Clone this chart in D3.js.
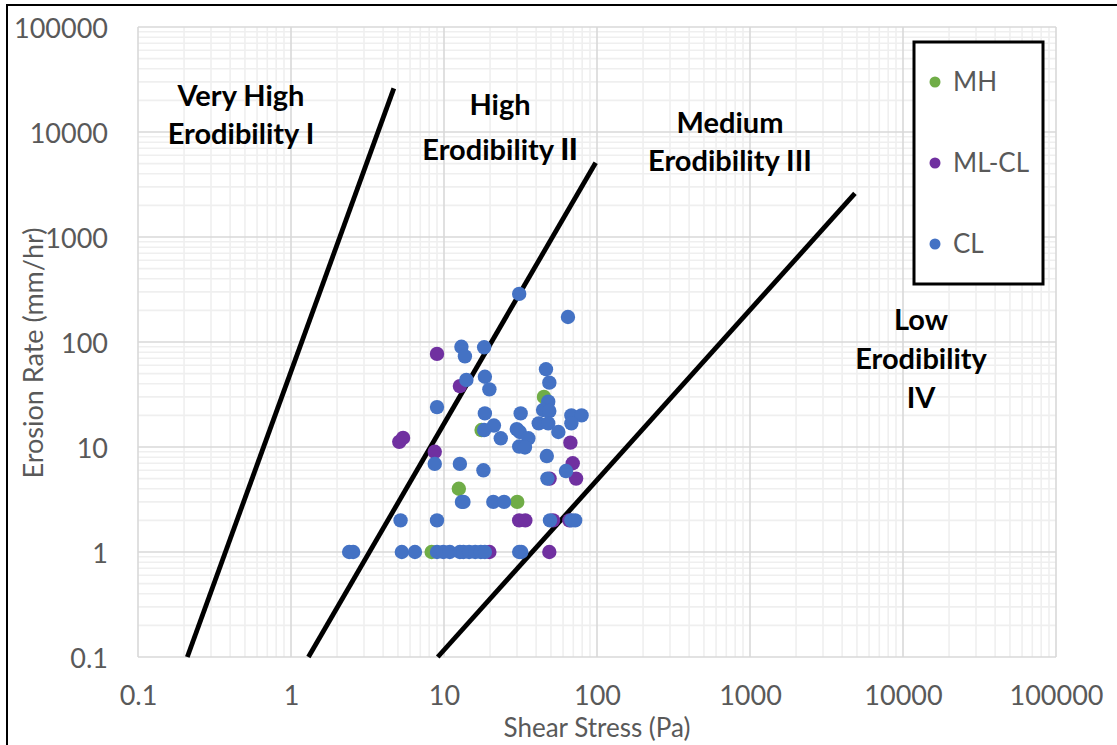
<!DOCTYPE html>
<html>
<head>
<meta charset="utf-8">
<script src="https://cdn.jsdelivr.net/npm/d3@7"></script>
<style>
  html, body { margin: 0; padding: 0; background: #fff; }
  svg { display: block; }
</style>
</head>
<body>
<svg id="chart" width="1117" height="745"></svg>
<script>
// ---------- DATA ----------
const axisTicks = [0.1, 1, 10, 100, 1000, 10000, 100000];
const tickLabels = ["0.1", "1", "10", "100", "1000", "10000", "100000"];

const seriesNames = ["MH", "ML-CL", "CL"];
const seriesColors = ["#70ad47", "#7030a0", "#4472c4"];

// MH
const mhShear   = [45, 12.5, 30.1, 8.3, 17.6];
const mhErosion = [30, 4.0, 3.0, 1.0, 14.5];

// ML-CL
const mlclShear   = [9.0, 12.7, 5.1, 5.4, 8.7, 67, 69.4, 73, 49, 31, 34, 51.6, 66, 48.8, 19.8];
const mlclErosion = [77, 38, 11.2, 12.2, 9.0, 11.0, 7.0, 5.0, 5.0, 2.0, 2.0, 2.0, 2.0, 1.0, 1.0];

// CL
const clShear = [31, 64.6, 13.0, 18.3, 13.7, 14.0, 18.5, 19.8, 9.0, 46.4, 48.8, 48, 44.4, 48.8,
  18.5, 31.7, 68, 79.3, 68, 41.6, 48, 21.2, 18.3, 23.5, 29.9, 31.3, 35.6, 55.9, 31, 33.8,
  47, 62.7, 47.4, 18.1, 8.7, 12.7, 13.1, 13.4, 21, 24.7, 5.2, 9.0, 49.3, 68, 72,
  2.4, 2.55, 5.3, 6.46, 9.0, 9.9, 10.9, 12.7, 13.4, 14.6, 16.0, 17.4, 18.5, 31, 32];
const clErosion = [287, 173, 90, 89, 73, 43.5, 46.7, 35.4, 24, 55, 41, 27, 22.5, 22,
  20.9, 20.9, 20, 20, 16.8, 16.8, 16.8, 16.0, 14.5, 12.1, 14.8, 13.9, 12.1, 13.9, 10.1, 9.9,
  8.2, 5.9, 5.0, 6.0, 6.9, 6.9, 3.0, 3.0, 3.0, 3.0, 2.0, 2.0, 2.0, 2.0, 2.0,
  1, 1, 1, 1, 1, 1, 1, 1, 1, 1, 1, 1, 1, 1, 1];

// Erodibility boundary lines (endpoints)
const boundaryShear   = [[0.21, 4.7], [1.3, 98], [9.1, 4850]];
const boundaryErosion = [[0.1, 26000], [0.1, 5100], [0.1, 2600]];

const zoneLines = [
  ["Very High", "Erodibility I"],
  ["High", "Erodibility II"],
  ["Medium", "Erodibility III"],
  ["Low", "Erodibility", "IV"]
];

// ---------- CHART ----------
(function () {
const svg = d3.select("#chart");
const W = 1117, H = 745;
const pLeft = 138, pRight = 1056, pTop = 27, pBottom = 657;

const x = d3.scaleLog().domain([0.1, 100000]).range([pLeft, pRight]);
const y = d3.scaleLog().domain([0.1, 100000]).range([pBottom, pTop]);

// outer frame (left & top edges visible)
svg.append("path").attr("d", `M7,${H} V5 H${W}`).attr("fill", "none")
  .attr("stroke", "#000").attr("stroke-width", 2);

// minor grid
const minor = [];
for (let e = -1; e < 5; e++) for (let k = 2; k <= 9; k++) minor.push(k * Math.pow(10, e));
const grid = svg.append("g");
grid.append("g").selectAll("line").data(minor).join("line")
  .attr("x1", d => x(d)).attr("x2", d => x(d)).attr("y1", pTop).attr("y2", pBottom)
  .attr("stroke", "#efefef").attr("stroke-width", 1.6);
grid.append("g").selectAll("line").data(minor).join("line")
  .attr("y1", d => y(d)).attr("y2", d => y(d)).attr("x1", pLeft).attr("x2", pRight)
  .attr("stroke", "#efefef").attr("stroke-width", 1.6);
// major grid
grid.append("g").selectAll("line").data(axisTicks).join("line")
  .attr("x1", d => x(d)).attr("x2", d => x(d)).attr("y1", pTop).attr("y2", pBottom)
  .attr("stroke", "#d9d9d9").attr("stroke-width", 1.6);
grid.append("g").selectAll("line").data(axisTicks).join("line")
  .attr("y1", d => y(d)).attr("y2", d => y(d)).attr("x1", pLeft).attr("x2", pRight)
  .attr("stroke", "#d9d9d9").attr("stroke-width", 1.6);

// axes tick labels
const font = "Lato, 'Open Sans', sans-serif";
const xAxis = d3.axisBottom(x).tickValues(axisTicks).tickFormat((d, i) => tickLabels[i]).tickSize(0).tickPadding(0);
const gx = svg.append("g").attr("transform", `translate(0,${pBottom})`).call(xAxis);
gx.select(".domain").remove();
gx.selectAll("text").attr("dy", null).attr("y", 48)
  .attr("font-family", font).attr("font-size", 27).attr("fill", "#595959");

const yAxis = d3.axisLeft(y).tickValues(axisTicks).tickFormat((d, i) => tickLabels[i]).tickSize(0).tickPadding(0);
const gy = svg.append("g").attr("transform", `translate(108,0)`).call(yAxis);
gy.select(".domain").remove();
gy.selectAll("text").attr("dy", null).attr("y", 10)
  .attr("font-family", font).attr("font-size", 27).attr("fill", "#595959");

// axis titles
svg.append("text").attr("x", 597).attr("y", 737).attr("text-anchor", "middle")
  .attr("font-family", font).attr("font-size", 26).attr("fill", "#595959")
  .text("Shear Stress (Pa)");
svg.append("text").attr("transform", "translate(43,353) rotate(-90)").attr("text-anchor", "middle")
  .attr("font-family", font).attr("font-size", 27).attr("fill", "#595959")
  .text("Erosion Rate (mm/hr)");

// boundary lines
const line = d3.line().x(d => x(d[0])).y(d => y(d[1]));
boundaryShear.forEach((xs, i) => {
  const pts = xs.map((v, j) => [v, boundaryErosion[i][j]]);
  svg.append("path").attr("d", line(pts)).attr("fill", "none")
    .attr("stroke", "#000").attr("stroke-width", 4.8);
});

// zone labels (pixel placement)
const zonePos = [
  { cx: 241, ys: [106, 144] },
  { cx: 500, ys: [115, 160] },
  { cx: 730, ys: [133, 171] },
  { cx: 921, ys: [330, 369, 408] }
];
zoneLines.forEach((lines, k) => {
  lines.forEach((t, i) => {
    const txt = svg.append("text").attr("x", zonePos[k].cx).attr("y", zonePos[k].ys[i])
      .attr("text-anchor", "middle").attr("font-family", font)
      .attr("font-weight", "bold").attr("font-size", 29).attr("fill", "#000");
    if (t === "Erodibility II") {
      txt.append("tspan").text("Erodibility ");
      txt.append("tspan").attr("font-family", "'Liberation Sans', Arial, sans-serif").attr("font-size", 31).text("II");
    } else {
      txt.text(t);
    }
  });
});

// scatter points
const seriesShear = [mhShear, mlclShear, clShear];
const seriesErosion = [mhErosion, mlclErosion, clErosion];
seriesShear.forEach((xs, s) => {
  const pts = xs.map((v, i) => [v, seriesErosion[s][i]]);
  svg.append("g").selectAll("circle").data(pts).join("circle")
    .attr("cx", d => x(d[0])).attr("cy", d => y(d[1])).attr("r", 7.2)
    .attr("fill", seriesColors[s]);
});

// legend
const lg = svg.append("g");
lg.append("rect").attr("x", 914).attr("y", 42).attr("width", 129).attr("height", 242)
  .attr("fill", "#fff").attr("stroke", "#000").attr("stroke-width", 3);
const legendY = [82, 163, 244];
seriesNames.forEach((n, i) => {
  lg.append("circle").attr("cx", 935).attr("cy", legendY[i]).attr("r", 5.5).attr("fill", seriesColors[i]);
  lg.append("text").attr("x", 953).attr("y", legendY[i] + 9)
    .attr("font-family", font).attr("font-size", 26).attr("fill", "#595959").text(n);
});
})();
</script>
</body>
</html>
